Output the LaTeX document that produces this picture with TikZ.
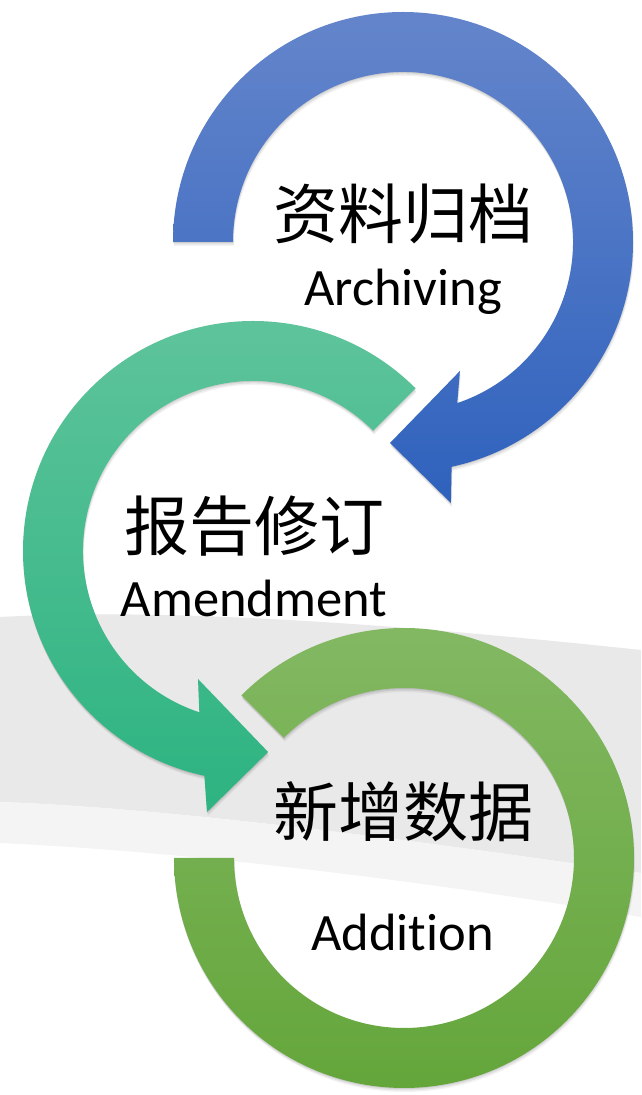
\documentclass[tikz,border=0pt]{standalone}
\usepackage{fontspec}
\setmainfont{Carlito}[Ligatures=NoCommon]
\newfontfamily\cjk{Noto Sans CJK SC}
\usetikzlibrary{shadows,calc}
\definecolor{bandgray}{HTML}{E9E9E9}
\definecolor{bandlight}{HTML}{F4F4F4}
\definecolor{blueTop}{HTML}{6485CB}
\definecolor{blueBot}{HTML}{2F62BD}
\definecolor{tealTop}{HTML}{60C49C}
\definecolor{tealBot}{HTML}{2DB381}
\definecolor{greenTop}{HTML}{84B964}
\definecolor{greenBot}{HTML}{63A539}
\begin{document}
\begin{tikzpicture}[x=1pt,y=1pt,
  cn/.style={font=\cjk\fontsize{65}{70}\selectfont, inner sep=0pt, anchor=base},
  en/.style={font=\fontsize{52.5}{60}\selectfont, inner sep=0pt, anchor=base},
  softshadow/.style={
    drop shadow={shadow xshift=0pt,shadow yshift=-1pt,opacity=.08,fill=black},
    drop shadow={shadow xshift=.5pt,shadow yshift=-2.5pt,opacity=.07,fill=black},
    drop shadow={shadow xshift=1pt,shadow yshift=-4pt,opacity=.05,fill=black}},
  blueshape/.style={softshadow, top color=blueTop, bottom color=blueBot},
  tealshape/.style={softshadow, top color=tealTop, bottom color=tealBot},
  greenshape/.style={softshadow, top color=greenTop, bottom color=greenBot}]
\useasboundingbox (0,0) rectangle (641,1095);
\fill[white] (0,0) rectangle (641,1095);
% background swoosh
\fill[bandgray] (0,478) .. controls (150,486) and (350,476) .. (641,445)
  -- (641,222) .. controls (500,242) and (200,286) .. (0,293) -- cycle;
\fill[bandlight] (0,293) .. controls (200,286) and (500,242) .. (641,222)
  -- (641,178) .. controls (450,210) and (200,243) .. (0,252) -- cycle;
% centres
\coordinate (Cb) at (403,853);
\coordinate (Ct) at (253,544);
\coordinate (Cg) at (404,237);
% green ring
\path[greenshape] ($(Cg)+(135:230)$) arc[start angle=135,end angle=-180,radius=230]
  -- ($(Cg)+(180:170)$) arc[start angle=-180,end angle=135,radius=170] -- cycle;
% teal circular arrow
\path[tealshape] ($(Ct)+(45:230)$) arc[start angle=45,end angle=257.8,radius=230]
  -- ($(Ct)+(260:265)$) -- ($(Ct)+(274.3:201.6)$) -- ($(Ct)+(246.75:139.3)$)
  -- ($(Ct)+(251.6:170)$) arc[start angle=251.6,end angle=45,radius=170] -- cycle;
% blue circular arrow
\path[blueshape] ($(Cb)+(180:230)$) arc[start angle=180,end angle=-77.8,radius=230]
  -- ($(Cb)+(-79.6:265.4)$) -- ($(Cb)+(-93.7:201.4)$) -- ($(Cb)+(-66.2:141)$)
  -- ($(Cb)+(-71.4:170)$) arc[start angle=-71.4,end angle=180,radius=170] -- cycle;
% labels
\node[cn] (zh1) at (403,856.5) {资料归档};
\node[en] (en1) at (403,789) {Archiving};
\node[cn] (zh2) at (254.5,544.5) {报告修订};
\node[en] (en2) at (254,478) {Amendment};
\node[cn] (zh3) at (403.5,258.5) {新增数据};
\node[en] (en3) at (402.5,144) {Addition};
\end{tikzpicture}
\end{document}
